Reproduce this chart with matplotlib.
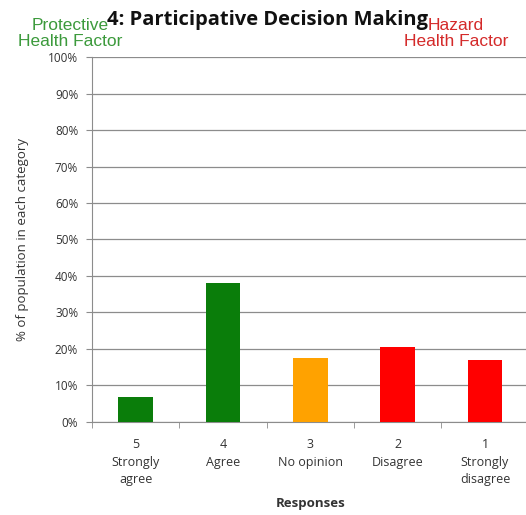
import matplotlib
matplotlib.use("Agg")
import matplotlib.pyplot as plt
import numpy as np

responses = ["5\nStrongly\nagree", "4\nAgree", "3\nNo opinion", "2\nDisagree", "1\nStrongly\ndisagree"]
percent = [6.9, 38.0, 17.6, 20.6, 16.9]
bar_colors = ["#0a7d0a", "#0a7d0a", "#ffa200", "#ff0000", "#ff0000"]
yticks = list(range(0, 101, 10))

fig = plt.figure(figsize=(5.26, 5.15), dpi=100)
ax = fig.add_axes([0.175, 0.181, 0.83, 0.708])

x = np.arange(len(responses))
ax.bar(x, percent, width=0.4, color=bar_colors, zorder=3)

ax.set_xlim(-0.5, len(responses) - 0.5)
ax.set_ylim(0, 100)
ax.set_yticks(yticks)
ax.set_yticklabels([f"{v}%" for v in yticks], fontsize=8.5, color="#333333", family="Open Sans")
ax.yaxis.grid(True, color="#8c8c8c", linewidth=0.9, zorder=0)

ax.set_xticks(x)
ax.set_xticklabels(responses, fontsize=9, color="#333333", family="Open Sans", linespacing=1.45)
ax.tick_params(axis="x", length=0, pad=12)
ax.set_xticks(np.arange(-0.5, len(responses) - 0.5, 1.0), minor=True)
ax.tick_params(axis="x", which="minor", length=4, color="#8c8c8c")
ax.tick_params(axis="y", length=4, color="#8c8c8c", pad=6)

for side in ["top", "right"]:
    ax.spines[side].set_visible(False)
for side in ["left", "bottom"]:
    ax.spines[side].set_color("#8c8c8c")

ax.set_ylabel("% of population in each category", fontsize=9.5, color="#333333", family="Open Sans")
ax.yaxis.set_label_coords(-0.145, 0.5)
ax.set_xlabel("Responses", fontsize=9.5, fontweight="bold", color="#333333", family="Open Sans")
ax.xaxis.set_label_coords(0.5, -0.205)

fig.text(0.508, 0.961, "4: Participative Decision Making", ha="center", va="center",
         fontsize=14.5, fontweight="bold", family="Open Sans", color="#111111", zorder=5)
fig.text(0.133, 0.935, "Protective\nHealth Factor", ha="center", va="center", fontsize=12.5,
         family="Liberation Sans", color="#3c9a3c", linespacing=1.05, zorder=1)
fig.text(0.867, 0.935, "Hazard\nHealth Factor", ha="center", va="center", fontsize=12.5,
         family="Liberation Sans", color="#d42a2a", linespacing=1.05, zorder=1)

fig.savefig("out.png", dpi=100)
